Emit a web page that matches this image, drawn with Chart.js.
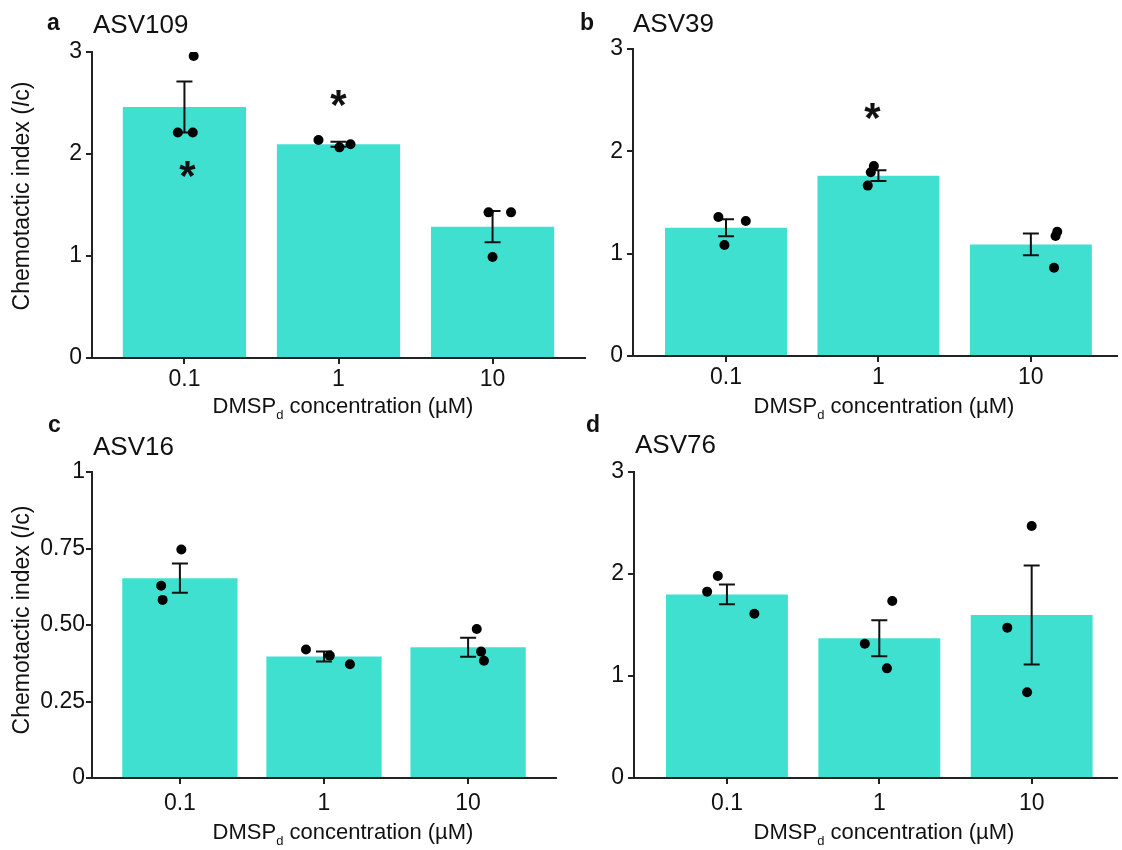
<!DOCTYPE html>
<html>
<head>
<meta charset="utf-8">
<script src="https://cdn.jsdelivr.net/npm/chart.js@4.4.1/dist/chart.umd.min.js"></script>
<style>
  html, body { margin:0; padding:0; background:#fff; }
  #wrap { position:relative; width:1122px; height:850px; overflow:hidden; }
  canvas { position:absolute; }
</style>
</head>
<body>
<div id="wrap">
  <canvas id="pa" width="600" height="425" style="left:0px;top:0px"></canvas>
  <canvas id="pb" width="562" height="425" style="left:560px;top:0px"></canvas>
  <canvas id="pc" width="600" height="450" style="left:0px;top:400px"></canvas>
  <canvas id="pd" width="562" height="450" style="left:560px;top:400px"></canvas>
</div>
<script>
// ---------- datos
const categories = ['0.1', '1', '10'];
const yTicks3 = [0, 1, 2, 3];
const yTickLabels3 = ['0', '1', '2', '3'];
const yTicks1 = [0, 0.25, 0.5, 0.75, 1];
const yTickLabels1 = ['0', '0.25', '0.50', '0.75', '1'];

// a - ASV109
const asv109Mean = [2.46, 2.095, 1.287];
const asv109Sem = [0.25, 0.025, 0.153];
const asv109Reps = [[2.96, 2.21, 2.21], [2.137, 2.065, 2.095], [1.428, 1.428, 0.99]];
const asv109Jitter = [[0.06, -0.043, 0.054], [-0.13, 0.006, 0.078], [-0.026, 0.12, 0]];
const asv109Stars = [[0.02, 1.84], [1, 2.536]];

// b - ASV39
const asv39Mean = [1.254, 1.762, 1.09];
const asv39Sem = [0.083, 0.053, 0.106];
const asv39Reps = [[1.358, 1.319, 1.085], [1.857, 1.795, 1.665], [1.215, 1.173, 0.863]];
const asv39Jitter = [[-0.05, 0.13, -0.01], [-0.03, -0.05, -0.07], [0.173, 0.162, 0.152]];
const asv39Stars = [[0.96, 2.39]];

// c - ASV16
const asv16Mean = [0.653, 0.397, 0.427];
const asv16Sem = [0.048, 0.016, 0.031];
const asv16Reps = [[0.628, 0.582, 0.747], [0.42, 0.40, 0.372], [0.413, 0.383, 0.487]];
const asv16Jitter = [[-0.13, -0.12, 0.01], [-0.125, 0.04, 0.18], [0.09, 0.11, 0.06]];
const asv16Stars = [];

// d - ASV76
const asv76Mean = [1.80, 1.37, 1.598];
const asv76Sem = [0.097, 0.177, 0.485];
const asv76Reps = [[1.827, 1.98, 1.61], [1.317, 1.735, 1.075], [2.47, 1.474, 0.84]];
const asv76Jitter = [[-0.13, -0.06, 0.18], [-0.095, 0.085, 0.05], [0, -0.16, -0.03]];
const asv76Stars = [];

const TURQ = '#40E0D0';
const INK = '#111';
const FONT = '"Liberation Sans", Arial, Helvetica, sans-serif';
Chart.defaults.font.family = FONT;

function makePanel(id, d, lay){
  const cv = document.getElementById(id);
  const W = cv.width, H = cv.height;

  const bars = d.mean.map((v, i) => ({x: i, y: v}));
  const dots = [];
  d.reps.forEach((arr, i) => arr.forEach((v, k) => dots.push({x: i + d.jitter[i][k], y: v})));

  // barras de error (SEM) encima de las barras, debajo de los puntos
  const errorBars = {
    id: 'errorBars',
    afterDatasetDraw(chart, args){
      if (args.meta.type !== 'bar') return;
      const {ctx, scales:{x, y}} = chart;
      ctx.save();
      ctx.strokeStyle = INK; ctx.lineWidth = 2;
      d.mean.forEach((m, i) => {
        const px = x.getPixelForValue(i);
        const t = y.getPixelForValue(m + d.sem[i]);
        const b = y.getPixelForValue(m - d.sem[i]);
        ctx.beginPath();
        ctx.moveTo(px, t); ctx.lineTo(px, b);
        ctx.moveTo(px - 8, t); ctx.lineTo(px + 8, t);
        ctx.moveTo(px - 8, b); ctx.lineTo(px + 8, b);
        ctx.stroke();
      });
      ctx.restore();
    }
  };

  const stars = {
    id: 'stars',
    afterDatasetsDraw(chart){
      const {ctx, scales:{x, y}} = chart;
      const fs = 42;
      ctx.save();
      ctx.fillStyle = INK;
      ctx.font = 'bold ' + fs + 'px ' + FONT;
      ctx.textAlign = 'center'; ctx.textBaseline = 'alphabetic';
      d.stars.forEach(([sx, sy]) => {
        ctx.fillText('*', x.getPixelForValue(sx), y.getPixelForValue(sy) + 0.48 * fs);
      });
      ctx.restore();
    }
  };

  const panelText = {
    id: 'panelText',
    afterDraw(chart){
      const ctx = chart.ctx;
      ctx.save();
      ctx.fillStyle = INK;
      ctx.textBaseline = 'alphabetic'; ctx.textAlign = 'left';
      ctx.font = 'bold 23px ' + FONT;
      ctx.fillText(d.letter, lay.letter[0], lay.letter[1]);
      ctx.font = '26px ' + FONT;
      ctx.fillText(d.name, lay.name[0], lay.name[1]);

      // eje x: DMSP_d concentration (µM)
      const big = '22px ' + FONT, small = '13px ' + FONT;
      ctx.textBaseline = 'middle';
      ctx.font = big; const w1 = ctx.measureText('DMSP').width;
      const w3 = ctx.measureText(' concentration (µM)').width;
      ctx.font = small; const w2 = ctx.measureText('d').width;
      let sx = lay.xTitle[0] - (w1 + w2 + w3) / 2;
      const cy = lay.xTitle[1];
      ctx.font = big; ctx.fillText('DMSP', sx, cy); sx += w1;
      ctx.font = small; ctx.fillText('d', sx, cy + 8); sx += w2;
      ctx.font = big; ctx.fillText(' concentration (µM)', sx, cy);

      // eje y: Chemotactic index (Ic)
      if (lay.yTitle){
        ctx.translate(lay.yTitle[0], lay.yTitle[1]);
        ctx.rotate(-Math.PI / 2);
        const parts = [['Chemotactic index (', '23px '], ['I', 'italic 23px '], ['c', '23px '], [')', '23px ']];
        let tot = 0;
        parts.forEach(p => { ctx.font = p[1] + FONT; tot += ctx.measureText(p[0]).width; });
        let px = -tot / 2;
        parts.forEach(p => { ctx.font = p[1] + FONT; ctx.fillText(p[0], px, 0); px += ctx.measureText(p[0]).width; });
      }
      ctx.restore();
    }
  };

  return new Chart(cv, {
    type: 'bar',
    data: {
      datasets: [
        {type: 'bar', data: bars, backgroundColor: TURQ, borderWidth: 0,
         categoryPercentage: 0.8, barPercentage: 1.0, order: 2},
        {type: 'scatter', data: dots, backgroundColor: '#000', borderWidth: 0,
         pointRadius: 5, order: 1}
      ]
    },
    options: {
      responsive: false,
      animation: false,
      events: [],
      layout: {padding: {left: 0, top: lay.top, right: W - lay.right, bottom: 0}},
      plugins: {legend: {display: false}, tooltip: {enabled: false}},
      scales: {
        x: {
          type: 'linear', min: lay.xMin, max: lay.xMax, offset: false,
          afterBuildTicks: s => { s.ticks = categories.map((c, i) => ({value: i})); },
          afterFit: s => { s.height = H - lay.bottom; },
          ticks: {callback: v => categories[v], font: {size: 23}, color: INK,
                  padding: lay.xPad, maxRotation: 0, autoSkip: false},
          grid: {offset: false, drawOnChartArea: false, drawTicks: true, tickLength: 6,
                 color: '#222', lineWidth: 2},
          border: {display: true, color: '#222', width: 2}
        },
        y: {
          min: 0, max: d.ticks[d.ticks.length - 1],
          afterBuildTicks: s => { s.ticks = d.ticks.map(v => ({value: v})); },
          afterFit: s => { s.width = lay.left; },
          ticks: {callback: (v, i) => d.tickLabels[i], font: {size: 23}, color: INK,
                  padding: lay.yPad, autoSkip: false},
          grid: {drawOnChartArea: false, drawTicks: true, tickLength: 6, color: '#222', lineWidth: 2},
          border: {display: true, color: '#222', width: 2}
        }
      }
    },
    plugins: [errorBars, stars, panelText]
  });
}

makePanel('pa',
  {letter: 'a', name: 'ASV109', mean: asv109Mean, sem: asv109Sem, reps: asv109Reps,
   jitter: asv109Jitter, stars: asv109Stars, ticks: yTicks3, tickLabels: yTickLabels3},
  {left: 92, top: 52, right: 585, bottom: 358, xMin: -0.6, xMax: 2.6, xPad: 2, yPad: 4,
   letter: [47, 30], name: [93, 33], yTitle: [23, 196], xTitle: [343, 407]});

makePanel('pb',
  {letter: 'b', name: 'ASV39', mean: asv39Mean, sem: asv39Sem, reps: asv39Reps,
   jitter: asv39Jitter, stars: asv39Stars, ticks: yTicks3, tickLabels: yTickLabels3},
  {left: 73, top: 49, right: 562, bottom: 356, xMin: -0.61, xMax: 2.565, xPad: 2, yPad: 4,
   letter: [20, 30], name: [73, 32], yTitle: null, xTitle: [324, 407]});

makePanel('pc',
  {letter: 'c', name: 'ASV16', mean: asv16Mean, sem: asv16Sem, reps: asv16Reps,
   jitter: asv16Jitter, stars: asv16Stars, ticks: yTicks1, tickLabels: yTickLabels1},
  {left: 92, top: 72, right: 556, bottom: 378, xMin: -0.61, xMax: 2.61, xPad: 6, yPad: 1,
   letter: [48, 32], name: [93, 55], yTitle: [23, 220], xTitle: [343, 433]});

makePanel('pd',
  {letter: 'd', name: 'ASV76', mean: asv76Mean, sem: asv76Sem, reps: asv76Reps,
   jitter: asv76Jitter, stars: asv76Stars, ticks: yTicks3, tickLabels: yTickLabels3},
  {left: 74, top: 72, right: 562, bottom: 378, xMin: -0.61, xMax: 2.56, xPad: 6, yPad: 4,
   letter: [26, 32], name: [75, 53], yTitle: null, xTitle: [324, 433]});
</script>
</body>
</html>
